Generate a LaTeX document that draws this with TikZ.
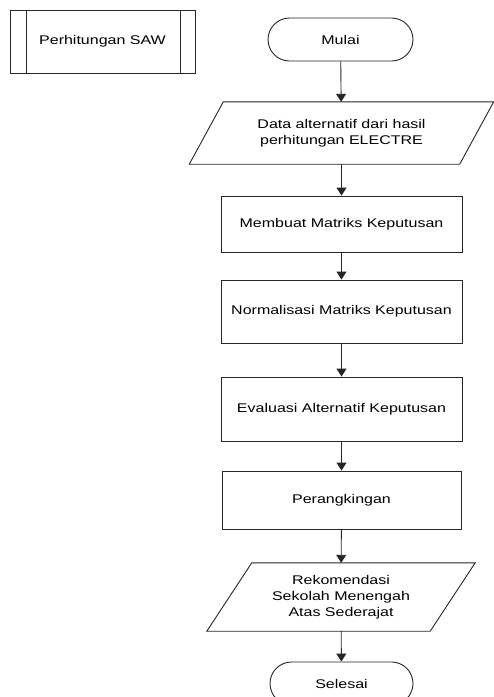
\documentclass[tikz,border=0pt]{standalone}
\usepackage{fontspec}
\setmainfont{Liberation Sans}[FakeStretch=1.27]
\usetikzlibrary{arrows.meta}
\begin{document}
\begin{tikzpicture}[x=1pt,y=-1pt,
  every node/.style={inner sep=0pt, align=center, font=\fontsize{12.6}{16}\selectfont},
  line/.style={line width=0.9pt, draw=black!85},
  box/.style={line, draw, rectangle},
  term/.style={line, draw, rectangle, rounded corners=21.5pt, minimum width=145pt, minimum height=43pt},
  io/.style={rectangle},
  flow/.style={line, -{Triangle[length=8pt,width=10pt]}}
]
\useasboundingbox (0,0) rectangle (494,697);
% predefined process
\node[box, minimum width=185pt, minimum height=63pt] (saw) at (102.5,41.5) {Perhitungan SAW};
\draw[line] ([xshift=17pt]saw.north west) -- ([xshift=17pt]saw.south west);
\draw[line] ([xshift=-15pt]saw.north east) -- ([xshift=-15pt]saw.south east);

\node[term] (mulai) at (340.5,39.5) {Mulai};

\node[io, minimum width=270pt, minimum height=62pt] (in1) at (341.5,133) {Data alternatif dari hasil\\perhitungan ELECTRE};
\draw[line] ([xshift=17pt]in1.north west) -- ([xshift=17pt]in1.north east) -- ([xshift=-17pt]in1.south east) -- ([xshift=-17pt]in1.south west) -- cycle;

\node[box, minimum width=241pt, minimum height=56pt] (b1) at (341.5,224) {Membuat Matriks Keputusan};
\node[box, minimum width=241pt, minimum height=63pt] (b2) at (341.5,311.5) {Normalisasi Matriks Keputusan};
\node[box, minimum width=241pt, minimum height=64pt] (b3) at (341.5,409) {Evaluasi Alternatif Keputusan};
\node[box, minimum width=239pt, minimum height=58pt] (b4) at (341.5,500) {Perangkingan};

\node[io, minimum width=223pt, minimum height=68pt] (out) at (341,597) {Rekomendasi\\Sekolah Menengah\\Atas Sederajat};
\draw[line] ([xshift=22.5pt]out.north west) -- ([xshift=22.5pt]out.north east) -- ([xshift=-22.5pt]out.south east) -- ([xshift=-22.5pt]out.south west) -- cycle;

\node[term, minimum width=143pt] (selesai) at (341.5,683.5) {Selesai};

\draw[flow] (mulai) -- (in1);
\draw[flow] (in1) -- (b1);
\draw[flow] (b1) -- (b2);
\draw[flow] (b2) -- (b3);
\draw[flow] (b3) -- (b4);
\draw[flow] (b4) -- (out);
\draw[flow] (out) -- (selesai);
\end{tikzpicture}
\end{document}
